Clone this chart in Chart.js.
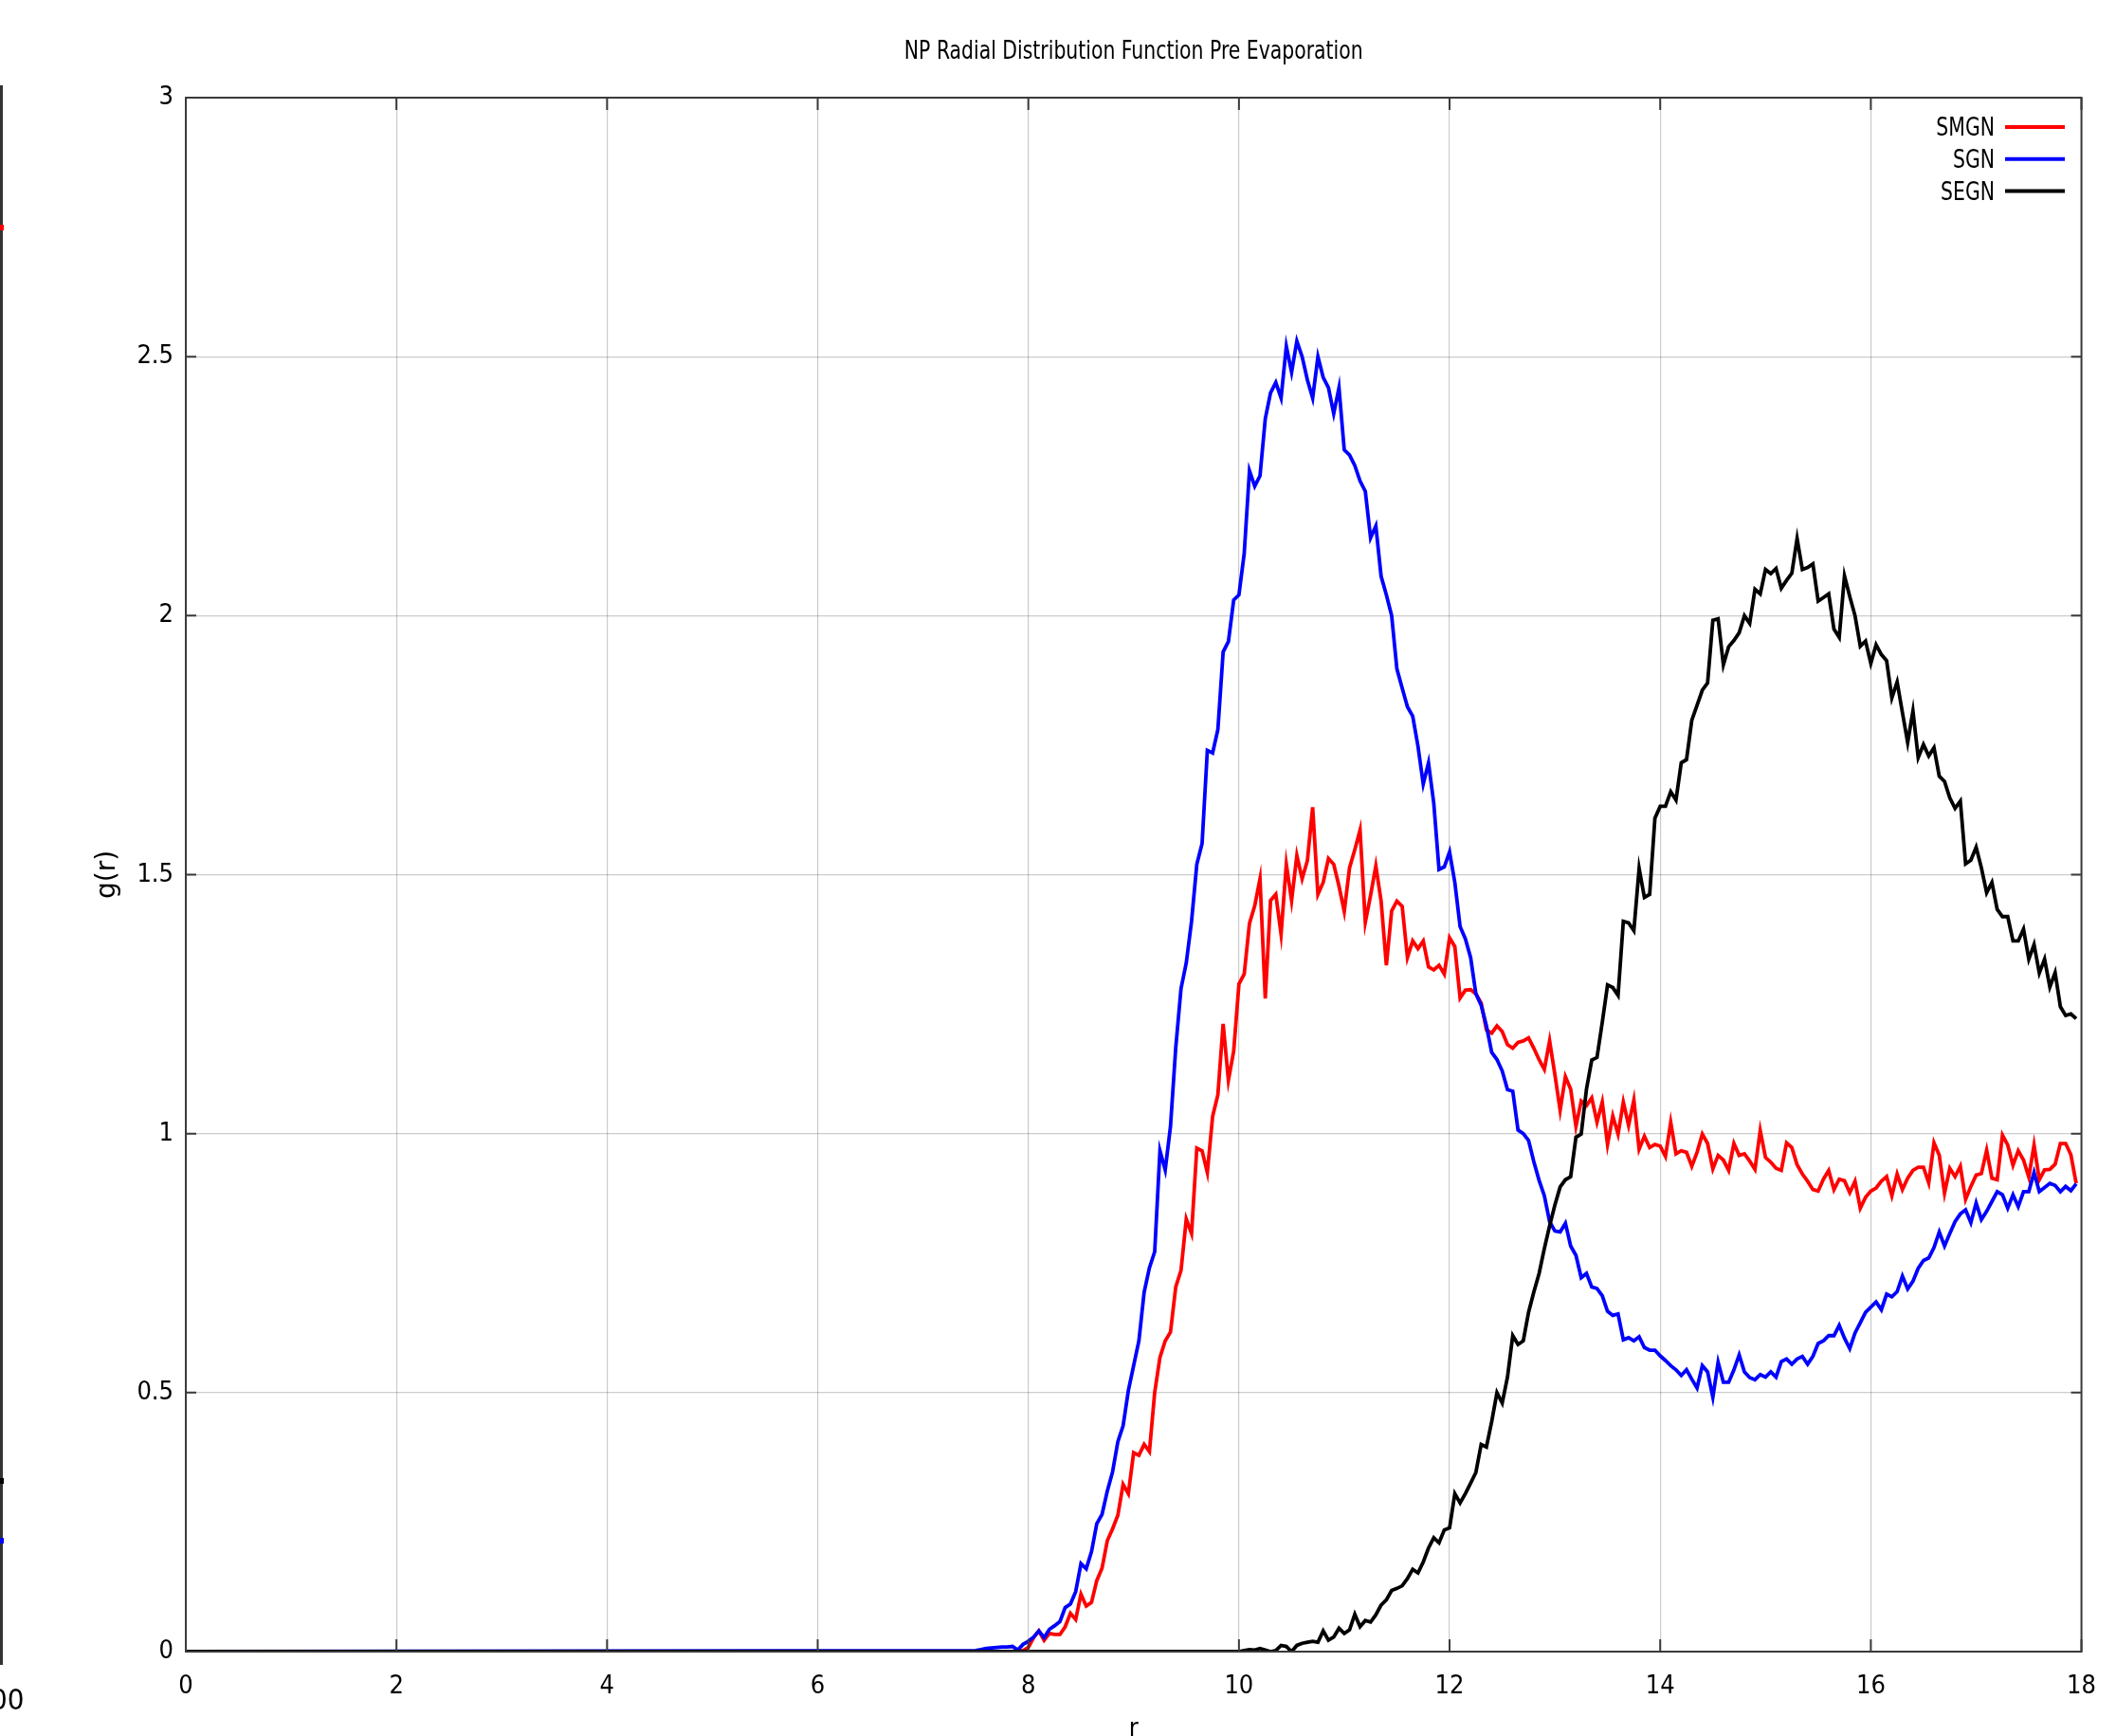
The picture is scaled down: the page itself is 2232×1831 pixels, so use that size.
<!DOCTYPE html>
<html>
<head>
<meta charset="utf-8">
<title>NP Radial Distribution Function Pre Evaporation</title>
<script src="https://cdn.jsdelivr.net/npm/chart.js@4/dist/chart.umd.min.js"></script>
<style>
  body { margin: 0; background: #fff; }
  canvas { display: block; }
</style>
</head>
<body>
<canvas id="rdfChart" width="2232" height="1831"></canvas>
<script>
// g(r) samples, bin width 0.05; everything before the start value is 0
const dr = 0.05;
const seriesLabels = ['SMGN', 'SGN', 'SEGN'];
const seriesColors = ['#ff0000', '#0000ff', '#000000'];
const xTicks = [0, 2, 4, 6, 8, 10, 12, 14, 16, 18];
const yTicks = [0, 0.5, 1, 1.5, 2, 2.5, 3];

const smgnStart = 7.5;
const smgn = [
  0, 0, 0, 0, 0, 0, 0, 0, 0, 0.002,
  0.008, 0.027, 0.04, 0.022, 0.035, 0.033, 0.033, 0.048, 0.074, 0.062,
  0.111, 0.088, 0.095, 0.137, 0.161, 0.214, 0.237, 0.263, 0.323, 0.305,
  0.384, 0.379, 0.40, 0.386, 0.50, 0.568, 0.60, 0.617, 0.704, 0.736,
  0.835, 0.807, 0.972, 0.967, 0.925, 1.033, 1.075, 1.212, 1.103, 1.159,
  1.289, 1.308, 1.406, 1.44, 1.492, 1.261, 1.45, 1.462, 1.385, 1.52,
  1.45, 1.537, 1.492, 1.527, 1.63, 1.462, 1.485, 1.531, 1.52, 1.478,
  1.429, 1.513, 1.548, 1.586, 1.408, 1.46, 1.517, 1.449, 1.325, 1.43,
  1.449, 1.439, 1.34, 1.372, 1.357, 1.372, 1.322, 1.316, 1.325, 1.308,
  1.378, 1.361, 1.262, 1.277, 1.278, 1.27, 1.252, 1.20, 1.194, 1.208,
  1.197, 1.172, 1.165, 1.176, 1.179, 1.185, 1.165, 1.143, 1.124, 1.179,
  1.114, 1.045, 1.11, 1.086, 1.014, 1.063, 1.054, 1.069, 1.022, 1.061,
  0.979, 1.034, 0.999, 1.061, 1.016, 1.065, 0.97, 0.995, 0.973, 0.979,
  0.976, 0.956, 1.022, 0.961, 0.967, 0.964, 0.937, 0.964, 0.999, 0.981,
  0.932, 0.958, 0.949, 0.929, 0.981, 0.958, 0.961, 0.947, 0.931, 1.006,
  0.954, 0.945, 0.933, 0.929, 0.982, 0.973, 0.94, 0.922, 0.908, 0.892,
  0.889, 0.912, 0.929, 0.892, 0.912, 0.909, 0.886, 0.908, 0.856, 0.877,
  0.889, 0.895, 0.908, 0.917, 0.88, 0.922, 0.892, 0.914, 0.929, 0.935,
  0.935, 0.905, 0.982, 0.958, 0.885, 0.933, 0.917, 0.937, 0.873, 0.898,
  0.92, 0.923, 0.968, 0.914, 0.911, 0.997, 0.978, 0.939, 0.967, 0.949,
  0.916, 0.978, 0.911, 0.93, 0.931, 0.941, 0.981, 0.981, 0.959, 0.904
];

const sgnStart = 7.5;
const sgn = [
  0.002, 0.004, 0.006, 0.007, 0.008, 0.009, 0.009, 0.01, 0.003, 0.014,
  0.02, 0.028, 0.04, 0.027, 0.043, 0.05, 0.058, 0.085, 0.092, 0.116,
  0.17, 0.16, 0.193, 0.247, 0.265, 0.31, 0.347, 0.405, 0.436, 0.504,
  0.552, 0.60, 0.694, 0.741, 0.772, 0.967, 0.93, 1.014, 1.166, 1.28,
  1.33, 1.41, 1.52, 1.56, 1.74, 1.735, 1.78, 1.93, 1.95, 2.03,
  2.04, 2.12, 2.28, 2.25, 2.27, 2.38, 2.43, 2.45, 2.42, 2.52,
  2.47, 2.53, 2.50, 2.455, 2.42, 2.50, 2.46, 2.44, 2.39, 2.44,
  2.32, 2.31, 2.29, 2.26, 2.24, 2.15, 2.173, 2.076, 2.04, 2.0,
  1.897, 1.86, 1.824, 1.806, 1.748, 1.675, 1.716, 1.638, 1.51, 1.515,
  1.544, 1.485, 1.40, 1.376, 1.34, 1.27, 1.248, 1.208, 1.157, 1.143,
  1.121, 1.085, 1.082, 1.007, 1.0, 0.987, 0.946, 0.91, 0.88, 0.83,
  0.812, 0.81, 0.827, 0.783, 0.765, 0.722, 0.73, 0.704, 0.701, 0.687,
  0.657, 0.649, 0.652, 0.602, 0.606, 0.60, 0.608, 0.587, 0.582, 0.582,
  0.571, 0.562, 0.552, 0.544, 0.533, 0.544, 0.526, 0.509, 0.552, 0.54,
  0.491, 0.559, 0.52, 0.52, 0.544, 0.573, 0.54, 0.529, 0.525, 0.535,
  0.53, 0.54, 0.53, 0.56, 0.565, 0.555, 0.565, 0.57, 0.555, 0.57,
  0.595, 0.60, 0.61, 0.61, 0.63, 0.605, 0.585, 0.615, 0.635, 0.655,
  0.665, 0.675, 0.66, 0.69, 0.685, 0.695, 0.725, 0.70, 0.715, 0.74,
  0.755, 0.76, 0.78, 0.81, 0.783, 0.807, 0.83, 0.845, 0.853, 0.828,
  0.866, 0.834, 0.85, 0.869, 0.888, 0.882, 0.856, 0.882, 0.859, 0.888,
  0.888, 0.925, 0.888, 0.896, 0.904, 0.90, 0.888, 0.898, 0.89, 0.903
];

const segnStart = 10.0;
const segn = [
  0, 0.002, 0.004, 0.003, 0.006, 0.003, 0.0, 0.002, 0.012, 0.01,
  0.0, 0.012, 0.016, 0.018, 0.02, 0.018, 0.04, 0.022, 0.028, 0.045,
  0.035, 0.042, 0.072, 0.048, 0.06, 0.057, 0.071, 0.09, 0.1, 0.118,
  0.122, 0.127, 0.141, 0.159, 0.152, 0.173, 0.2, 0.22, 0.21, 0.235,
  0.239, 0.305, 0.287, 0.305, 0.325, 0.346, 0.40, 0.395, 0.444, 0.50,
  0.48, 0.53, 0.61, 0.593, 0.60, 0.655, 0.694, 0.73, 0.778, 0.822,
  0.862, 0.897, 0.911, 0.917, 0.993, 0.999, 1.086, 1.142, 1.147, 1.215,
  1.287, 1.282, 1.267, 1.41, 1.407, 1.392, 1.512, 1.456, 1.462, 1.609,
  1.632, 1.632, 1.66, 1.644, 1.716, 1.722, 1.798, 1.827, 1.856, 1.87,
  1.991, 1.994, 1.905, 1.94, 1.952, 1.967, 2.0, 1.985, 2.051, 2.042,
  2.089, 2.081, 2.091, 2.053, 2.068, 2.082, 2.149, 2.089, 2.093, 2.10,
  2.028, 2.035, 2.042, 1.974, 1.958, 2.077, 2.037, 2.0, 1.941, 1.951,
  1.908, 1.944, 1.925, 1.913, 1.841, 1.872, 1.813, 1.755, 1.816, 1.726,
  1.751, 1.729, 1.745, 1.69, 1.68, 1.648, 1.628, 1.642, 1.521, 1.528,
  1.553, 1.513, 1.465, 1.485, 1.433, 1.419, 1.419, 1.372, 1.372, 1.395,
  1.337, 1.365, 1.31, 1.337, 1.283, 1.311, 1.245, 1.228, 1.231, 1.222
];

function toPoints(start, values) {
  const pts = [{x: 0, y: 0}];
  values.forEach((v, i) => {
    pts.push({x: +(start + i * dr).toFixed(2), y: v});
  });
  return pts;
}

const fontNarrow = "'DejaVu Sans Condensed', 'Liberation Sans Narrow', sans-serif";
Chart.defaults.font.family = fontNarrow;
Chart.defaults.color = '#000';

// draw text squeezed sideways, the gnuplot font is narrower than DejaVu
function squeezedText(c, text, x, y, sx, align) {
  c.save();
  c.translate(x, y);
  c.scale(sx, 1);
  c.textAlign = align;
  c.fillText(text, 0, 0);
  c.restore();
}

// title drawn by hand so its width matches
const titlePlugin = {
  id: 'gnuTitle',
  afterDraw(chart) {
    const c = chart.ctx;
    c.save();
    c.font = "27px " + fontNarrow;
    c.fillStyle = '#000';
    c.textBaseline = 'middle';
    const a = chart.chartArea;
    squeezedText(c, 'NP Radial Distribution Function Pre Evaporation', (a.left + a.right) / 2, 55, 0.84, 'center');
    c.restore();
  }
};

// border box + inward tick marks on all four sides
const framePlugin = {
  id: 'gnuFrame',
  afterDatasetsDraw(chart) {
    const {ctx: c, chartArea: a, scales} = chart;
    c.save();
    c.strokeStyle = '#3a3a3a';
    c.lineWidth = 2;
    c.strokeRect(a.left, a.top, a.right - a.left, a.bottom - a.top);
    c.beginPath();
    xTicks.forEach(t => {
      const px = scales.x.getPixelForValue(t);
      c.moveTo(px, a.bottom); c.lineTo(px, a.bottom - 13);
      c.moveTo(px, a.top); c.lineTo(px, a.top + 13);
    });
    yTicks.forEach(t => {
      const py = scales.y.getPixelForValue(t);
      c.moveTo(a.left, py); c.lineTo(a.left + 11, py);
      c.moveTo(a.right, py); c.lineTo(a.right - 11, py);
    });
    c.stroke();
    c.restore();
  }
};

// key in the top right corner, text left of the sample line
const keyPlugin = {
  id: 'gnuKey',
  afterDraw(chart) {
    const c = chart.ctx;
    c.save();
    c.font = "27px " + fontNarrow;
    c.textBaseline = 'middle';
    chart.data.datasets.forEach((ds, i) => {
      const y = 134 + i * 33.8;
      c.fillStyle = '#000';
      squeezedText(c, ds.label, 2104, y + 2, 0.84, 'right');
      c.strokeStyle = ds.borderColor;
      c.lineWidth = 4;
      c.beginPath();
      c.moveTo(2115, y);
      c.lineTo(2178, y);
      c.stroke();
    });
    c.restore();
  }
};

// edge of the neighbouring panel that shows at the far left
const edgePlugin = {
  id: 'leftEdge',
  afterDraw(chart) {
    const c = chart.ctx;
    c.save();
    c.strokeStyle = '#333';
    c.lineWidth = 3;
    c.beginPath();
    c.moveTo(1.5, 90); c.lineTo(1.5, 1756);
    c.stroke();
    [['#ff0000', 240], ['#000000', 1562], ['#0000ff', 1625]].forEach(m => {
      c.fillStyle = m[0];
      c.fillRect(0, m[1] - 3, 4, 6);
    });
    c.fillStyle = '#000';
    c.font = "31px " + fontNarrow;
    c.textAlign = 'left';
    c.textBaseline = 'alphabetic';
    c.fillText('00', -10, 1803);
    c.restore();
  }
};

const ctx = document.getElementById('rdfChart').getContext('2d');
const rdfChart = new Chart(ctx, {
  type: 'line',
  data: {
    datasets: [
      { label: seriesLabels[0], data: toPoints(smgnStart, smgn), borderColor: seriesColors[0], order: 2 },
      { label: seriesLabels[1], data: toPoints(sgnStart, sgn), borderColor: seriesColors[1], order: 1 },
      { label: seriesLabels[2], data: toPoints(segnStart, segn), borderColor: seriesColors[2], order: 0 }
    ]
  },
  options: {
    responsive: false,
    animation: false,
    devicePixelRatio: 1,
    layout: { padding: { top: 103, right: 30, left: 0, bottom: 0 } },
    elements: {
      line: { borderWidth: 3.8, tension: 0 },
      point: { radius: 0 }
    },
    plugins: {
      legend: { display: false },
      title: { display: false },
      tooltip: { enabled: false }
    },
    scales: {
      x: {
        type: 'linear',
        min: 0,
        max: 18,
        afterFit: scale => { scale.height = 89; },
        afterBuildTicks: scale => { scale.ticks = xTicks.map(v => ({value: v})); },
        ticks: { padding: 21, font: { size: 27 }, maxRotation: 0, callback: v => String(v) },
        grid: { color: 'rgba(0,0,0,0.2)', lineWidth: 1.2, drawTicks: false },
        border: { display: false },
        title: { display: true, text: 'r', font: { size: 27 }, padding: { top: 0, bottom: -9 } }
      },
      y: {
        type: 'linear',
        min: 0,
        max: 3,
        afterFit: scale => { scale.width = 196; },
        afterBuildTicks: scale => { scale.ticks = yTicks.map(v => ({value: v})); },
        ticks: { padding: 13, font: { size: 27 }, callback: v => String(v) },
        grid: { color: 'rgba(0,0,0,0.2)', lineWidth: 1.2, drawTicks: false },
        border: { display: false },
        title: {
          display: true, text: 'g(r)',
          font: { size: 28, family: "'DejaVu Sans', sans-serif" },
          padding: { top: 97, bottom: 0 }
        }
      }
    }
  },
  plugins: [titlePlugin, framePlugin, keyPlugin, edgePlugin]
});
</script>
</body>
</html>
